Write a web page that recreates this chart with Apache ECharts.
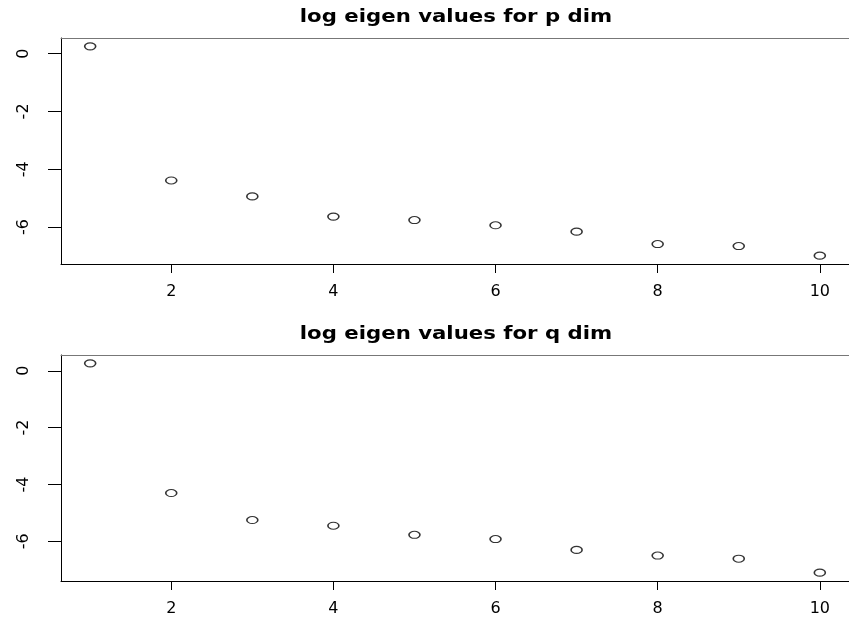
<!DOCTYPE html>
<html><head><meta charset="utf-8">
<script src="https://cdn.jsdelivr.net/npm/echarts@6/dist/echarts.min.js"></script>
<style>html,body{margin:0;padding:0;background:#fff}#c{width:849px;height:625px}</style>
</head><body><div id="c"></div>
<script>
const xIndex = [1,2,3,4,5,6,7,8,9,10];
const pValues = [0.25,-4.39,-4.94,-5.64,-5.76,-5.94,-6.16,-6.59,-6.66,-6.99];
const qValues = [0.26,-4.30,-5.25,-5.45,-5.77,-5.92,-6.30,-6.50,-6.61,-7.10];
const xTicks = [2,4,6,8,10];
const yTicks = [-6,-4,-2,0];
const titles = ['log eigen values for p dim','log eigen values for q dim'];

const FONT = 'DejaVu Sans, sans-serif';
function ext(vals){const mn=Math.min(...vals),mx=Math.max(...vals),d=(mx-mn)*0.04;return [mn-d,mx+d];}
const xr = ext(xIndex);
const grids = [{left:61,top:38,width:790,height:226},{left:61,top:355,width:790,height:226}];
const titleY = [18,335];
const series = [pValues,qValues];
const bottomAxes = grids.map((g,i)=>({type:'value',gridIndex:i,min:xr[0],max:xr[1],
     axisLine:{show:true,onZero:false,lineStyle:{color:'#000',width:1}},
     axisTick:{show:true,length:9,customValues:xTicks,lineStyle:{color:'#000'}},
     axisLabel:{customValues:xTicks,margin:20,color:'#000',fontFamily:FONT,fontSize:16},
     splitLine:{show:false}}));
const topAxes = grids.map((g,i)=>({type:'value',gridIndex:i,position:'top',min:xr[0],max:xr[1],
     axisLine:{show:true,onZero:false,lineStyle:{color:'#777',width:1}},
     axisTick:{show:false},axisLabel:{show:false},splitLine:{show:false}}));
const chart = echarts.init(document.getElementById('c'),null,{renderer:'canvas'});
chart.setOption({
  animation:false,
  backgroundColor:'#fff',
  graphic: titles.map((t,i)=>({type:'text',x:456,y:titleY[i],scaleX:1.25,
     style:{text:t,fontFamily:FONT,fontWeight:'bold',fontSize:17,fill:'#000',
            align:'center',verticalAlign:'middle'}})),
  grid: grids.map(g=>Object.assign({show:false},g)),
  xAxis: bottomAxes.concat(topAxes),
  yAxis: grids.map((g,i)=>{const r=ext(series[i]);return {type:'value',gridIndex:i,min:r[0],max:r[1],
     axisLine:{show:true,onZero:false,lineStyle:{color:'#000',width:1}},
     axisTick:{show:true,length:13,customValues:yTicks,lineStyle:{color:'#000'}},
     axisLabel:{customValues:yTicks,rotate:90,margin:29,color:'#000',fontFamily:FONT,fontSize:16},
     splitLine:{show:false}};}),
  series: series.map((vals,i)=>({type:'scatter',xAxisIndex:i,yAxisIndex:i,
     data:xIndex.map((x,k)=>[x,vals[k]]),symbol:'circle',symbolSize:[11,7],
     itemStyle:{color:'#fff',borderColor:'#000',borderWidth:1.3}}))
});
</script></body></html>
